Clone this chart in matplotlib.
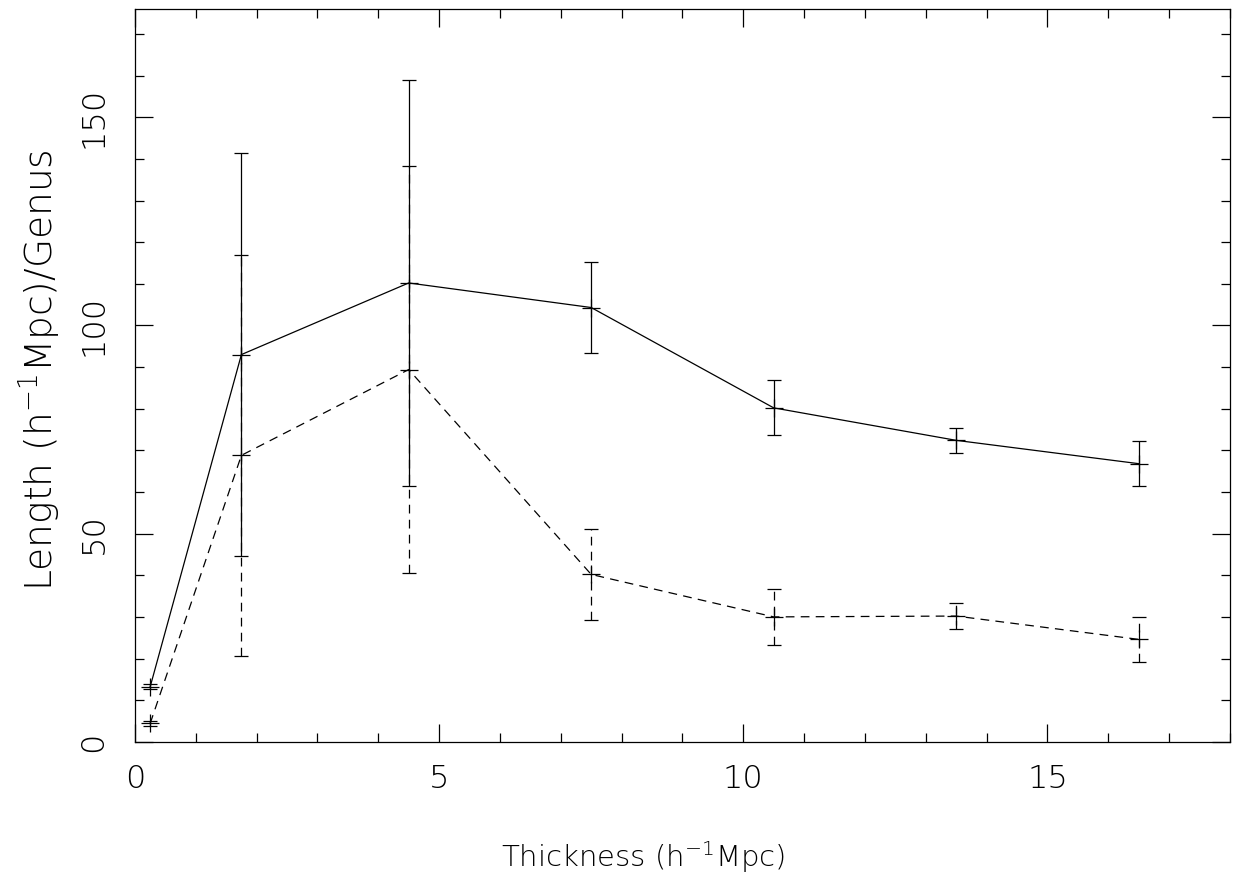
import matplotlib
matplotlib.use('Agg')
import matplotlib.pyplot as plt
from matplotlib.ticker import MultipleLocator
import numpy as np

# thickness of slices (h^-1 Mpc)
thickness = [0.25, 1.75, 4.5, 7.5, 10.5, 13.5, 16.5]

# solid curve
len_solid = [13.2, 93.0, 110.2, 104.3, 80.2, 72.4, 66.8]
err_solid = [0.6, 48.4, 48.7, 10.9, 6.6, 3.0, 5.4]

# dashed curve
len_dashed = [4.4, 68.8, 89.4, 40.2, 30.0, 30.2, 24.6]
err_dashed = [0.6, 48.2, 48.8, 11.0, 6.7, 3.1, 5.4]

plt.rcParams['font.family'] = 'DejaVu Sans'
plt.rcParams['font.weight'] = 'light'
plt.rcParams['axes.labelweight'] = 'light'

fig = plt.figure(figsize=(12.38, 8.81), dpi=100)
ax = fig.add_axes([0.109, 0.158, 0.8845, 0.8318])

ax.errorbar(thickness, len_solid, yerr=err_solid, fmt='k+-', lw=0.9,
            elinewidth=0.9, capsize=4.7, capthick=0.9, markersize=13,
            markeredgewidth=0.9)

eb = ax.errorbar(thickness, len_dashed, yerr=err_dashed, fmt='k+', lw=0.9,
                 elinewidth=0.9, capsize=4.7, capthick=0.9, markersize=13,
                 markeredgewidth=0.9, ls=(0, (7, 5)))
for col in eb[2]:
    col.set_linestyle((0, (7, 5)))

ax.set_xlim(0, 18)
ax.set_ylim(0, 176)
ax.xaxis.set_major_locator(MultipleLocator(5))
ax.xaxis.set_minor_locator(MultipleLocator(1))
ax.yaxis.set_major_locator(MultipleLocator(50))
ax.yaxis.set_minor_locator(MultipleLocator(10))

ax.tick_params(which='both', direction='in', top=True, right=True,
               width=0.9, labelsize=23)
ax.tick_params(which='major', length=13)
ax.tick_params(which='minor', length=6.5)
ax.tick_params(axis='x', pad=16)
ax.tick_params(axis='y', pad=19)
for lab in ax.get_yticklabels():
    lab.set_rotation(90)
    lab.set_va('center')
for sp in ax.spines.values():
    sp.set_linewidth(0.9)

ax.set_xlabel('Thickness (h$^{-1}$Mpc)', fontsize=21)
ax.set_ylabel('Length (h$^{-1}$Mpc)/Genus', fontsize=27)
ax.xaxis.set_label_coords(0.464, -0.157)
ax.xaxis.label.set_va('center')
ax.yaxis.set_label_coords(-0.087, 0.507)
ax.yaxis.label.set_va('center')

fig.savefig('out.png', dpi=100)
